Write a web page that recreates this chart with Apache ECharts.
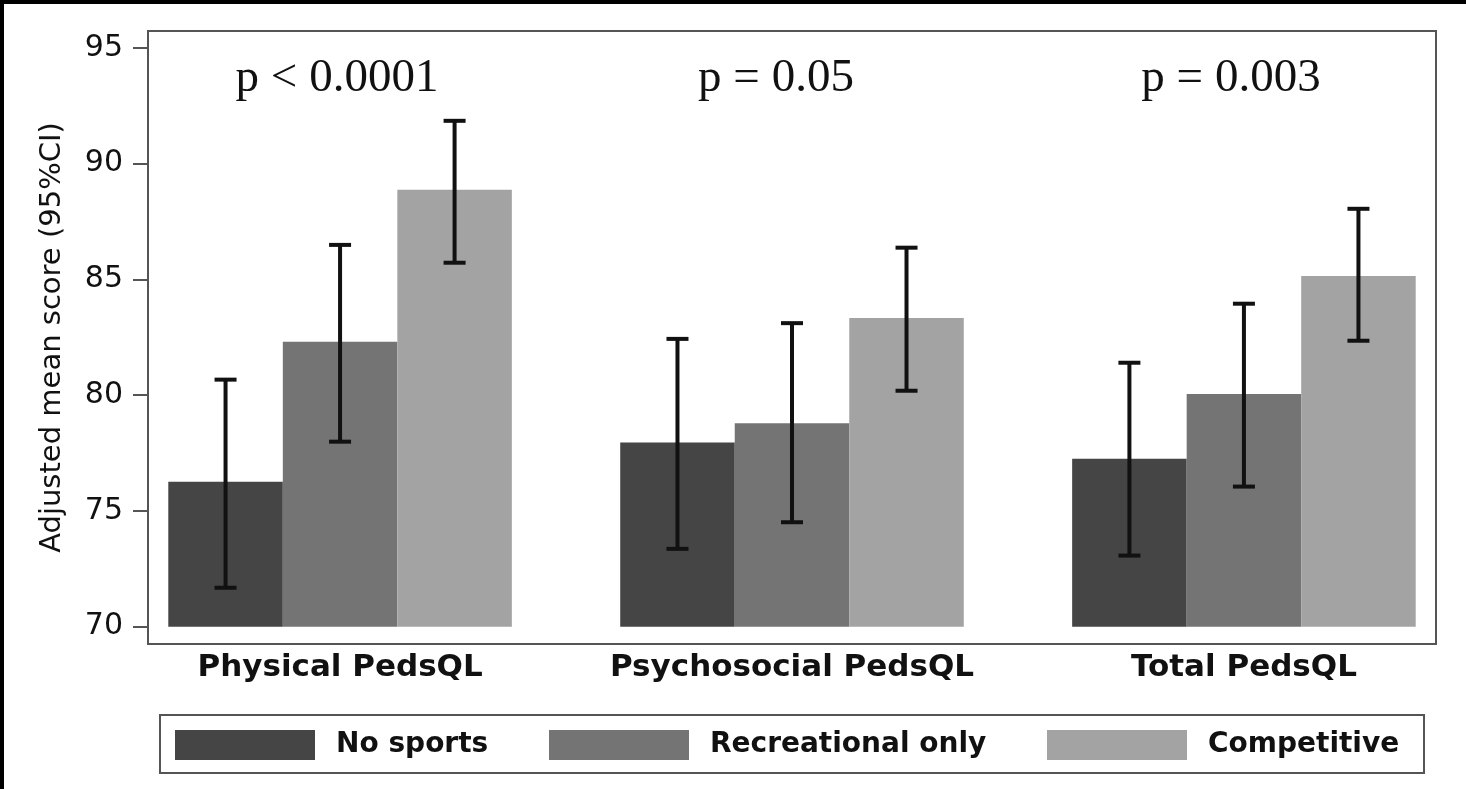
<!DOCTYPE html>
<html><head><meta charset="utf-8">
<script src="https://cdn.jsdelivr.net/npm/echarts@6/dist/echarts.min.js"></script>
<style>html,body{margin:0;padding:0;background:#fff}#c{width:1466px;height:789px}</style>
</head><body><div id="c"></div>
<script>
const categories = ['Physical PedsQL', 'Psychosocial PedsQL', 'Total PedsQL'];
const seriesNames = ['No sports', 'Recreational only', 'Competitive'];
const noSportsMean = [76.26, 77.95, 77.25];
const noSportsLow = [71.68, 73.36, 73.07];
const noSportsHigh = [80.67, 82.43, 81.40];
const recreationalMean = [82.31, 78.79, 80.05];
const recreationalLow = [77.99, 74.51, 76.05];
const recreationalHigh = [86.49, 83.11, 83.95];
const competitiveMean = [88.87, 83.33, 85.15];
const competitiveLow = [85.72, 80.19, 82.35];
const competitiveHigh = [91.85, 86.37, 88.05];
const pValueLabels = ['p < 0.0001', 'p = 0.05', 'p = 0.003'];
const yTickValues = [70, 75, 80, 85, 90, 95];
const barBase = 70;

const groups = [
  [noSportsMean, noSportsLow, noSportsHigh],
  [recreationalMean, recreationalLow, recreationalHigh],
  [competitiveMean, competitiveLow, competitiveHigh]
];
const colors = ['#454545', '#747474', '#a3a3a3'];
const BAR_W = 0.2534;
const CAP = 11;

function makeRender(k) {
  return function (params, api) {
    const x = api.value(0), m = api.value(1), lo = api.value(2), hi = api.value(3);
    const cx = x + (k - 1) * BAR_W;
    const p0 = api.coord([cx - BAR_W / 2, barBase]);
    const p1 = api.coord([cx + BAR_W / 2, m]);
    const pl = api.coord([cx, lo]);
    const ph = api.coord([cx, hi]);
    const ls = { stroke: '#111', lineWidth: 4 };
    return {
      type: 'group',
      children: [
        { type: 'rect', shape: { x: p0[0], y: p1[1], width: p1[0] - p0[0], height: p0[1] - p1[1] }, style: { fill: api.visual('color') } },
        { type: 'line', shape: { x1: pl[0], y1: pl[1], x2: ph[0], y2: ph[1] }, style: ls },
        { type: 'line', shape: { x1: ph[0] - CAP, y1: ph[1], x2: ph[0] + CAP, y2: ph[1] }, style: ls },
        { type: 'line', shape: { x1: pl[0] - CAP, y1: pl[1], x2: pl[0] + CAP, y2: pl[1] }, style: ls }
      ]
    };
  };
}

const series = groups.map((g, k) => ({
  type: 'custom',
  name: seriesNames[k],
  itemStyle: { color: colors[k] },
  renderItem: makeRender(k),
  encode: { x: 0, y: [1, 2, 3] },
  data: categories.map((c, i) => [i, g[0][i], g[1][i], g[2][i]])
}));

const legendLefts = [175, 549, 1047];
const pX = [337, 776, 1231];

const chart = echarts.init(document.getElementById('c'));
chart.setOption({
  animation: false,
  backgroundColor: '#fff',
  grid: { left: 148, top: 31, width: 1288, height: 613, show: true, borderColor: '#555', borderWidth: 2 },
  xAxis: {
    type: 'value', min: -0.425, max: 2.425,
    axisLine: { show: false, onZero: false }, axisTick: { show: false }, splitLine: { show: false },
    axisLabel: {
      customValues: [0, 1, 2],
      formatter: v => categories[Math.round(v)],
      fontFamily: 'DejaVu Sans', fontWeight: 'bold', fontSize: 31, color: '#111', margin: 8
    }
  },
  yAxis: {
    type: 'value', min: 69.25, max: 95.73,
    axisLine: { show: true, onZero: false, lineStyle: { color: '#555', width: 2 } },
    axisTick: { show: true, length: 15, customValues: yTickValues, lineStyle: { color: '#555', width: 2 } },
    axisLabel: { customValues: yTickValues, margin: 25, fontFamily: 'DejaVu Sans', fontSize: 30, color: '#111' },
    splitLine: { show: false },
    name: 'Adjusted mean score (95%CI)', nameLocation: 'middle', nameGap: 81,
    nameTextStyle: { fontFamily: 'DejaVu Sans', fontSize: 29, color: '#111' }
  },
  legend: seriesNames.map((n, i) => ({
    data: [n], left: legendLefts[i], top: 730, padding: 0,
    itemWidth: 140, itemHeight: 30, icon: 'rect', selectedMode: false,
    textStyle: { fontFamily: 'DejaVu Sans', fontWeight: 'bold', fontSize: 28, color: '#111', padding: [0, 0, 0, 16] }
  })),
  graphic: [
    { type: 'rect', silent: true, shape: { x: 160, y: 715, width: 1264, height: 58 }, style: { fill: 'none', stroke: '#555', lineWidth: 2 } },
    { type: 'rect', silent: true, shape: { x: 0, y: 0, width: 1466, height: 4 }, style: { fill: '#000' } },
    { type: 'rect', silent: true, shape: { x: 0, y: 0, width: 4, height: 789 }, style: { fill: '#000' } }
  ].concat(pValueLabels.map((t, i) => ({
    type: 'text', silent: true, x: pX[i], y: 79,
    style: { text: t, font: '47px "Liberation Serif"', textAlign: 'center', textVerticalAlign: 'middle', fill: '#111' }
  }))),
  series: series
});
</script>
</body></html>
